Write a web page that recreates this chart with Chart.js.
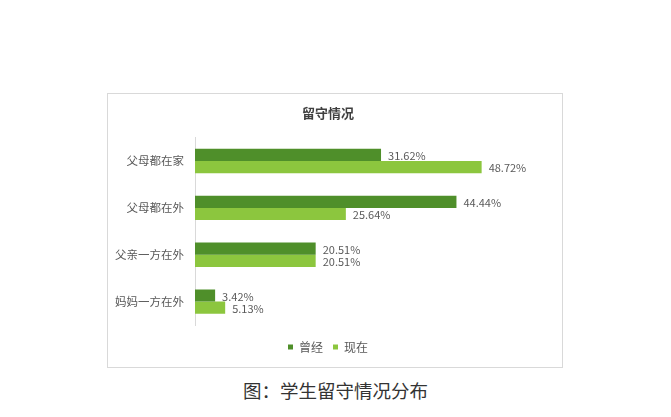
<!DOCTYPE html>
<html lang="zh">
<head>
<meta charset="UTF-8">
<title>留守情况</title>
<script src="https://cdn.jsdelivr.net/npm/chart.js"></script>
<style>
  html, body { margin: 0; padding: 0; background: #fff; }
  body { width: 671px; height: 417px; position: relative; overflow: hidden; }
  .box {
    position: absolute; left: 107px; top: 93px;
    width: 456px; height: 275px;
    border: 1px solid #d9d9d9; box-sizing: border-box;
  }
  .caption {
    position: absolute; left: 0; width: 671px; top: 378px;
    text-align: center; font-family: "Noto Sans CJK SC", sans-serif;
    font-size: 18.5px; color: #333; line-height: 24px;
  }
</style>
</head>
<body>
<div class="box"><canvas id="chart"></canvas></div>
<div class="caption">图：学生留守情况分布</div>
<script>
const categories = ['父母都在家', '父母都在外', '父亲一方在外', '妈妈一方在外'];
const seriesNames = ['曾经', '现在'];
const before = [31.62, 44.44, 20.51, 3.42];
const now = [48.72, 25.64, 20.51, 5.13];
const colors = ['#4f8f2a', '#8cc63e'];

const cjk = '"Noto Sans CJK SC", sans-serif';

// draw the percentage next to each bar
const barLabels = {
  id: 'barLabels',
  afterDatasetsDraw(chart) {
    const ctx = chart.ctx;
    ctx.save();
    ctx.font = '11px ' + cjk;
    ctx.fillStyle = '#595959';
    ctx.textAlign = 'left';
    ctx.textBaseline = 'middle';
    chart.data.datasets.forEach((ds, i) => {
      chart.getDatasetMeta(i).data.forEach((bar, j) => {
        ctx.fillText(ds.data[j].toFixed(2) + '%', bar.x + 7, bar.y + 1);
      });
    });
    ctx.restore();
  }
};

new Chart(document.getElementById('chart'), {
  type: 'bar',
  data: {
    labels: categories,
    datasets: [
      { label: seriesNames[0], data: before, backgroundColor: colors[0] },
      { label: seriesNames[1], data: now, backgroundColor: colors[1] }
    ]
  },
  options: {
    indexAxis: 'y',
    responsive: true,
    maintainAspectRatio: false,
    animation: false,
    categoryPercentage: 0.52,
    barPercentage: 1,
    layout: { padding: { left: 0, right: 14, top: 0, bottom: 4 } },
    plugins: {
      title: {
        display: true,
        text: '留守情况',
        color: '#404040',
        font: { family: cjk, size: 13, weight: 'bold' },
        padding: { top: 11, bottom: 17 }
      },
      legend: {
        position: 'bottom',
        labels: {
          boxWidth: 5, boxHeight: 5,
          color: '#595959',
          font: { family: cjk, size: 12 },
          padding: 10
        }
      },
      tooltip: { enabled: false }
    },
    scales: {
      x: {
        min: 0, max: 60,
        grid: { display: false },
        border: { display: false },
        ticks: { display: false },
        afterFit(scale) { scale.height = 6; }
      },
      y: {
        grid: { display: false, drawTicks: false },
        border: { display: true, color: '#d9d9d9' },
        ticks: { color: '#595959', font: { family: cjk, size: 11.5 }, padding: 11 },
        afterFit(scale) { scale.width = 87; }
      }
    }
  },
  plugins: [barLabels]
});
</script>
</body>
</html>
